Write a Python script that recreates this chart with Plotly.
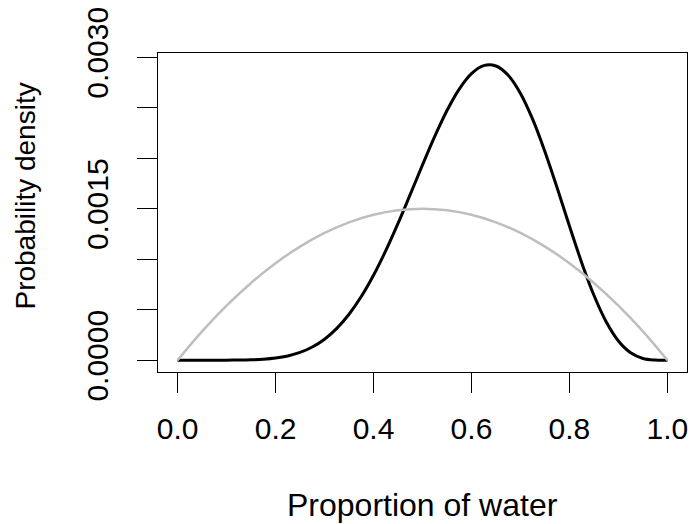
import plotly.graph_objects as go

# Grid for the posterior (black curve)
post_grid = [0.000, 0.025, 0.050, 0.075, 0.100, 0.125, 0.150, 0.175, 0.200, 0.225,
             0.250, 0.275, 0.300, 0.325, 0.350, 0.375, 0.400, 0.425, 0.450, 0.475,
             0.500, 0.525, 0.550, 0.575, 0.600, 0.625, 0.650, 0.675, 0.700, 0.725,
             0.750, 0.775, 0.800, 0.825, 0.850, 0.875, 0.900, 0.925, 0.950, 0.975,
             1.000]

# Posterior density (black curve)
posterior = [0.0, 0.0, 0.0, 0.0, 0.0000003, 0.0000011, 0.0000035, 0.0000092,
             0.0000208, 0.0000417, 0.0000765, 0.0001301, 0.0002079, 0.0003148,
             0.0004548, 0.0006301, 0.0008409, 0.0010842, 0.0013542, 0.0016413,
             0.0019336, 0.0022161, 0.0024724, 0.0026849, 0.0028376, 0.0029170,
             0.0029130, 0.0028210, 0.0026414, 0.0023845, 0.0020648, 0.0017043,
             0.0013288, 0.0009661, 0.0006427, 0.0003797, 0.0001894, 0.0000726,
             0.0000173, 0.0000013, 0.0]

# Grid and prior density (grey curve)
prior_grid = [0.00, 0.05, 0.10, 0.15, 0.20, 0.25, 0.30, 0.35, 0.40, 0.45, 0.50,
              0.55, 0.60, 0.65, 0.70, 0.75, 0.80, 0.85, 0.90, 0.95, 1.00]
prior = [0.0, 0.000285, 0.00054, 0.000765, 0.00096, 0.001125, 0.00126,
         0.001365, 0.00144, 0.001485, 0.0015, 0.001485, 0.00144, 0.001365,
         0.00126, 0.001125, 0.00096, 0.000765, 0.00054, 0.000285, 0.0]

x_ticks = [0.0, 0.2, 0.4, 0.6, 0.8, 1.0]
x_labels = ["0.0", "0.2", "0.4", "0.6", "0.8", "1.0"]
y_ticks = [0.0, 0.0005, 0.0010, 0.0015, 0.0020, 0.0025, 0.0030]
y_labels = ["0.0000", "", "", "0.0015", "", "", "0.0030"]

FONT = "Liberation Sans, Arial, Helvetica, sans-serif"

fig = go.Figure()
fig.add_trace(go.Scatter(x=post_grid, y=posterior, mode="lines",
                         line=dict(color="black", width=3, shape="spline"),
                         showlegend=False, hoverinfo="skip"))
fig.add_trace(go.Scatter(x=prior_grid, y=prior, mode="lines",
                         line=dict(color="#BEBEBE", width=2.5, shape="spline"),
                         showlegend=False, hoverinfo="skip"))

ymax = 0.002925
fig.update_layout(
    template="none",
    width=693, height=524,
    margin=dict(l=158, r=6, t=53, b=152, autoexpand=False),
    paper_bgcolor="white", plot_bgcolor="white",
    font=dict(family=FONT, size=28, color="black"),
    xaxis=dict(range=[-0.04, 1.04], tickvals=x_ticks, ticktext=x_labels,
               showgrid=False, zeroline=False, showline=True, mirror=True,
               linecolor="black", linewidth=1, ticks="outside", ticklen=20,
               tickwidth=1, tickcolor="black", ticklabelstandoff=10,
               automargin=False, ticklabeloverflow="allow", tickfont=dict(size=30)),
    yaxis=dict(range=[-0.04 * ymax, 1.04 * ymax], tickvals=y_ticks, ticktext=y_labels,
               showgrid=False, zeroline=False, showline=True, mirror=True,
               linecolor="black", linewidth=1, ticks="outside", ticklen=20,
               tickwidth=1, tickcolor="black", tickangle=-90, ticklabelstandoff=17,
               automargin=False, ticklabeloverflow="allow", tickfont=dict(size=30)),
    annotations=[
        dict(text="Proportion of water", xref="paper", yref="paper", x=0.5, y=0,
             xanchor="center", yanchor="middle", yshift=-133, showarrow=False,
             font=dict(size=32)),
        dict(text="Probability density", xref="paper", yref="paper", x=0, y=0.55,
             xanchor="center", yanchor="middle", xshift=-132, textangle=-90,
             showarrow=False, font=dict(size=28)),
    ],
)

# Remove the default 8px page margin so the figure fills the window exactly.
fig.write_html("out.html",
               config={"displayModeBar": False, "staticPlot": True},
               post_script="document.body.style.margin='0';"
                           "document.body.style.overflow='hidden';")
